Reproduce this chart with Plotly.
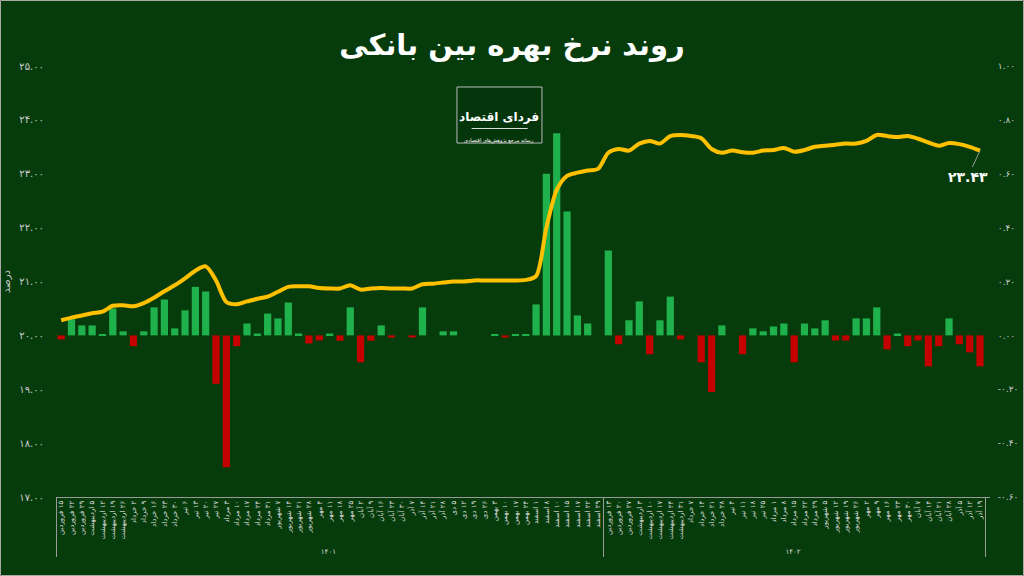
import plotly.graph_objects as go

# ---------------- data ----------------
labels_1401 = [
    "۱۵ فروردین", "۲۲ فروردین", "۲۹ فروردین",
    "۵ اردیبهشت", "۱۲ اردیبهشت", "۱۹ اردیبهشت", "۲۶ اردیبهشت",
    "۲ خرداد", "۹ خرداد", "۱۶ خرداد", "۲۳ خرداد", "۳۰ خرداد",
    "۶ تیر", "۱۳ تیر", "۲۰ تیر", "۲۷ تیر",
    "۳ مرداد", "۱۰ مرداد", "۱۷ مرداد", "۲۴ مرداد", "۳۱ مرداد",
    "۷ شهریور", "۱۴ شهریور", "۲۱ شهریور", "۲۸ شهریور",
    "۴ مهر", "۱۱ مهر", "۱۸ مهر", "۲۵ مهر",
    "۲ آبان", "۹ آبان", "۱۶ آبان", "۲۳ آبان", "۳۰ آبان",
    "۷ آذر", "۱۴ آذر", "۲۱ آذر", "۲۸ آذر",
    "۵ دی", "۱۲ دی", "۱۹ دی", "۲۶ دی",
    "۳ بهمن", "۱۰ بهمن", "۱۷ بهمن", "۲۴ بهمن",
    "۱ اسفند", "۸ اسفند", "۱۰ اسفند", "۱۵ اسفند", "۱۷ اسفند", "۲۲ اسفند", "۲۹ اسفند",
]
labels_1402 = [
    "۱۳ فروردین", "۲۰ فروردین", "۲۷ فروردین",
    "۳ اردیبهشت", "۱۰ اردیبهشت", "۱۷ اردیبهشت", "۲۴ اردیبهشت", "۳۱ اردیبهشت",
    "۷ خرداد", "۱۴ خرداد", "۲۱ خرداد", "۲۸ خرداد",
    "۴ تیر", "۱۱ تیر", "۱۸ تیر", "۲۵ تیر",
    "۱ مرداد", "۸ مرداد", "۱۵ مرداد", "۲۲ مرداد", "۲۹ مرداد",
    "۵ شهریور", "۱۲ شهریور", "۱۹ شهریور", "۲۶ شهریور",
    "۲ مهر", "۹ مهر", "۱۶ مهر", "۲۳ مهر", "۳۰ مهر",
    "۷ آبان", "۱۴ آبان", "۲۱ آبان", "۲۸ آبان",
    "۵ آذر", "۱۲ آذر", "۱۹ آذر",
]
year_names = ["۱۴۰۱", "۱۴۰۲"]

# interbank rate (%) - left axis
rate = [
    20.28, 20.33, 20.37, 20.41, 20.44, 20.55, 20.56, 20.54, 20.60, 20.70,
    20.82, 20.93, 21.06, 21.20, 21.28, 21.02, 20.62, 20.58, 20.63, 20.68,
    20.72, 20.81, 20.90, 20.91, 20.91, 20.88, 20.87, 20.87, 20.93, 20.85,
    20.87, 20.88, 20.87, 20.87, 20.87, 20.95, 20.96, 20.98, 21.00, 21.00,
    21.02, 21.02, 21.02, 21.02, 21.02, 21.03, 21.10, 22.00, 22.70, 22.96,
    23.02, 23.06, 23.09, 23.39, 23.46, 23.43, 23.56, 23.61, 23.56, 23.70,
    23.72, 23.70, 23.66, 23.46, 23.39, 23.43, 23.40, 23.39, 23.43, 23.44,
    23.48, 23.41, 23.44, 23.50, 23.52, 23.54, 23.56, 23.56, 23.61, 23.72,
    23.70, 23.68, 23.70, 23.65, 23.58, 23.52, 23.57, 23.55, 23.50, 23.43,
]

# weekly change (percentage points) - right axis
change = [
    -0.015, 0.060, 0.037, 0.037, 0.004, 0.100, 0.015, -0.040, 0.015, 0.104,
    0.133, 0.026, 0.093, 0.180, 0.163, -0.180, -0.490, -0.040, 0.044, 0.007,
    0.081, 0.063, 0.122, 0.007, -0.030, -0.019, 0.007, -0.020, 0.104, -0.100,
    -0.020, 0.037, -0.008, 0.000, -0.008, 0.104, 0.000, 0.015, 0.015, 0.000,
    0.000, 0.000, 0.004, -0.008, 0.004, 0.004, 0.115, 0.600, 0.750, 0.460,
    0.074, 0.044, 0.000, 0.315, -0.033, 0.056, 0.126, -0.070, 0.056, 0.144,
    -0.015, 0.000, -0.100, -0.210, 0.037, 0.000, -0.070, 0.026, 0.015, 0.033,
    0.044, -0.100, 0.044, 0.026, 0.056, -0.019, -0.019, 0.063, 0.063, 0.104,
    -0.052, 0.007, -0.040, -0.019, -0.115, -0.040, 0.063, -0.033, -0.063, -0.115,
]

left_tickvals = [17, 18, 19, 20, 21, 22, 23, 24, 25]
left_ticktext = ["۱۷.۰۰", "۱۸.۰۰", "۱۹.۰۰", "۲۰.۰۰", "۲۱.۰۰", "۲۲.۰۰", "۲۳.۰۰", "۲۴.۰۰", "۲۵.۰۰"]
right_tickvals = [-0.6, -0.4, -0.2, 0.0, 0.2, 0.4, 0.6, 0.8, 1.0]
right_ticktext = ["-۰.۶۰", "-۰.۴۰", "-۰.۲۰", "۰.۰۰", "۰.۲۰", "۰.۴۰", "۰.۶۰", "۰.۸۰", "۱.۰۰"]

title_text = "روند نرخ بهره بین بانکی"
last_label = "۲۳.۴۳"
logo_text = "فردای اقتصاد"
logo_sub = "رسانه مرجع پژوهش‌های اقتصادی"
y_title = "درصد"

# ---------------- build ----------------
RLE, PDF = "\u202b", "\u202c"
dates = [RLE + d + PDF for d in labels_1401 + labels_1402]
years = [year_names[0]] * len(labels_1401) + [year_names[1]] * len(labels_1402)

BG = "#063c0c"
GREEN = "#1fb14c"
RED = "#c40000"
GOLD = "#ffc000"
GRAY = "#9a9a9a"
FONT = "DejaVu Sans"

bar_colors = [GREEN if v >= 0 else RED for v in change]

fig = go.Figure()
fig.add_trace(go.Bar(
    x=[years, dates], y=change, marker=dict(color=bar_colors, line=dict(width=0)),
    yaxis="y", hoverinfo="skip",
))
fig.add_trace(go.Scatter(
    x=[years, dates], y=rate, mode="lines",
    line=dict(color=GOLD, width=4, shape="spline", smoothing=0.8),
    yaxis="y2", hoverinfo="skip",
))

fig.update_layout(
    width=1024, height=576,
    paper_bgcolor=BG, plot_bgcolor=BG,
    margin=dict(l=56, r=34, t=66, b=79, autoexpand=False),
    showlegend=False, bargap=0.3,
    font=dict(family=FONT, color="#dddddd"),
    title=dict(text="<b>" + title_text + "</b>", x=0.5, xanchor="center",
               y=0.922, yanchor="middle",
               font=dict(size=29, color="white", family=FONT)),
    xaxis=dict(
        type="multicategory", showline=True, linecolor=GRAY, linewidth=1,
        tickangle=-90, tickfont=dict(size=7, color="#dddddd", family=FONT),
        showdividers=True, dividercolor=GRAY, dividerwidth=1,
        ticks="", showgrid=False, zeroline=False, automargin=False,
    ),
    yaxis=dict(
        side="right", range=[-0.6, 1.0], tickvals=right_tickvals, ticktext=right_ticktext,
        showgrid=False, zeroline=False, showline=False,
        ticks="outside", ticklen=5, tickcolor=BG, automargin=False,
        tickfont=dict(size=9, color="#cccccc", family=FONT),
    ),
    yaxis2=dict(
        overlaying="y", side="left", range=[17, 25],
        tickvals=left_tickvals, ticktext=left_ticktext,
        showgrid=False, zeroline=False, showline=False,
        ticks="outside", ticklen=9, tickcolor=BG, automargin=False,
        tickfont=dict(size=10, color="#cccccc", family=FONT),
        title=dict(text=y_title, font=dict(size=10, color="#cccccc", family=FONT), standoff=6),
    ),
)

# last value label
fig.add_annotation(
    x=(years[-1], dates[-1]), y=rate[-1], xref="x", yref="y2",
    text="<b>" + last_label + "</b>", showarrow=True, arrowhead=0,
    arrowcolor=GRAY, arrowwidth=1, ax=-12, ay=26,
    font=dict(size=14, color="white", family=FONT),
)

# logo box
fig.add_shape(type="rect", xref="paper", yref="paper",
              x0=0.4293, x1=0.5203, y0=0.8213, y1=0.9513,
              line=dict(color="#bbbbbb", width=1), fillcolor="#05350a", layer="above")
fig.add_shape(type="line", xref="paper", yref="paper",
              x0=0.445, x1=0.505, y0=0.855, y1=0.855,
              line=dict(color="#dddddd", width=1), layer="above")
fig.add_annotation(x=0.4748, y=0.903, xref="paper", yref="paper", showarrow=False,
                   text="<b>" + logo_text + "</b>", font=dict(size=12, color="white", family=FONT))
fig.add_annotation(x=0.4748, y=0.840, xref="paper", yref="paper", showarrow=False,
                   text=logo_sub, font=dict(size=5, color="white", family=FONT))

# outer border
fig.add_shape(type="rect", xref="paper", yref="paper",
              x0=-55.5 / 934, x1=1 + 33.5 / 934, y0=-78.5 / 431, y1=1 + 65.5 / 431,
              line=dict(color="#aaaaaa", width=1), fillcolor="rgba(0,0,0,0)")

fig.write_html("out.html", config={"displayModeBar": False},
               post_script="document.body.style.margin='0';")
